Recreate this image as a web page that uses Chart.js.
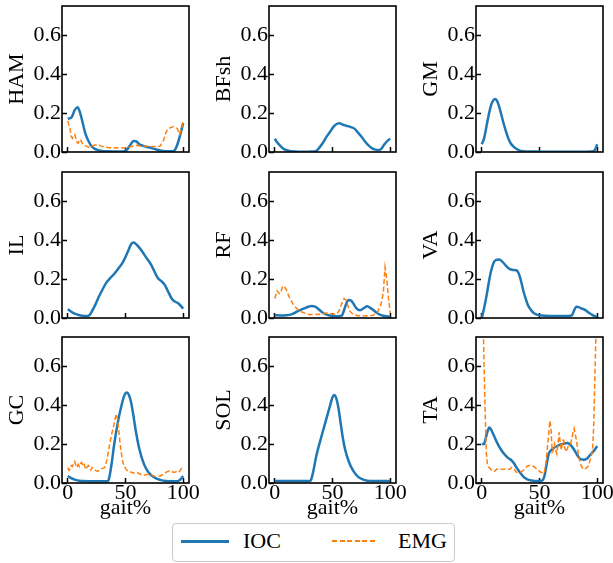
<!DOCTYPE html>
<html>
<head>
<meta charset="utf-8">
<script src="https://cdn.jsdelivr.net/npm/chart.js@4.4.1/dist/chart.umd.min.js"></script>
<style>
  html, body { margin: 0; padding: 0; background: #fff; }
  #fig { position: relative; width: 613px; height: 563px; overflow: hidden; background: #fff;
         font-family: "Liberation Serif", "Times New Roman", serif; }
  #fig canvas { position: absolute; }
  #legend { position: absolute; left: 172px; top: 523px; width: 281px; height: 37px;
            border: 1px solid #cccccc; border-radius: 4px; background: #fff; }
  .sample { position: absolute; top: 16px; }
  .solid { left: 8px; width: 48px; height: 2.5px; background: #1f77b4; }
  .dashed { left: 159px; width: 46px; height: 1.5px;
            background: repeating-linear-gradient(to right, #ff7f0e 0 5px, transparent 5px 7.6px); }
  .label { position: absolute; top: 6px; font-size: 22px; line-height: 22px; color: #000; white-space: nowrap; }
</style>
</head>
<body>
<div id="fig">
  <div id="legend">
    <div class="sample solid"></div><div class="label" style="left:70px">IOC</div>
    <div class="sample dashed"></div><div class="label" style="left:225px">EMG</div>
  </div>
</div>
<script>
// Muscle activation over the gait cycle: optimal-control estimate (IOC) vs. measured EMG.
const MUSCLES = ['HAM', 'BFsh', 'GM', 'IL', 'RF', 'VA', 'GC', 'SOL', 'TA'];
const X_TICKS = [0, 50, 100];
const Y_TICKS = [0, 0.2, 0.4, 0.6];

const HAM_IOC = [[0,0.17],[3.5,0.18],[6,0.215],[8.5,0.23],[10.5,0.205],[12.5,0.16],[15,0.1],[18,0.055],[21,0.027],[25,0.012],[30,0.005],[40,0.003],[48,0.003],[51,0.01],[54,0.035],[57,0.056],[59,0.055],[62,0.04],[66,0.03],[70,0.024],[75,0.016],[80,0.008],[85,0.004],[91,0.004],[93,0.012],[95,0.04],[97,0.08],[100,0.15]];
const HAM_EMG = [[0,0.16],[2,0.12],[3,0.08],[4,0.07],[5,0.085],[6,0.09],[7,0.07],[8,0.05],[9,0.045],[10,0.06],[11,0.065],[12,0.05],[14,0.035],[16,0.03],[18,0.025],[20,0.03],[23,0.035],[26,0.038],[29,0.03],[32,0.025],[36,0.022],[40,0.022],[45,0.02],[50,0.022],[53,0.025],[56,0.03],[60,0.035],[63,0.03],[67,0.03],[72,0.028],[77,0.028],[80,0.03],[83,0.06],[85,0.1],[87,0.12],[89,0.125],[91,0.13],[93,0.128],[95,0.12],[96,0.1],[97,0.09],[98,0.11],[100,0.155]];
const BFSH_IOC = [[0,0.068],[2,0.05],[5,0.03],[8,0.015],[12,0.006],[18,0.002],[25,0.001],[32,0.002],[36,0.006],[39,0.025],[42,0.05],[45,0.08],[48,0.105],[51,0.13],[54,0.145],[56,0.148],[59,0.14],[62,0.135],[66,0.128],[69,0.12],[72,0.1],[75,0.08],[78,0.055],[81,0.035],[84,0.02],[87,0.012],[90,0.01],[92,0.015],[95,0.04],[98,0.06],[100,0.068]];
const GM_IOC = [[0,0.04],[2,0.07],[4,0.13],[6,0.19],[8,0.24],[10,0.265],[11.5,0.272],[13,0.265],[15,0.235],[17,0.19],[19,0.145],[21,0.105],[23,0.07],[25,0.045],[28,0.025],[32,0.01],[36,0.004],[45,0.002],[60,0.001],[80,0.001],[95,0.002],[98,0.01],[100,0.04]];
const IL_IOC = [[0,0.045],[3,0.032],[6,0.022],[10,0.014],[14,0.01],[17,0.01],[19,0.016],[21,0.035],[24,0.07],[27,0.11],[30,0.145],[33,0.178],[36,0.2],[40,0.225],[44,0.255],[48,0.29],[52,0.34],[55,0.38],[57,0.388],[60,0.375],[64,0.345],[68,0.31],[72,0.275],[75,0.24],[78,0.205],[81,0.19],[84,0.17],[87,0.135],[90,0.1],[92,0.087],[95,0.078],[97,0.068],[100,0.048]];
const RF_IOC = [[0,0.014],[5,0.013],[10,0.014],[15,0.02],[20,0.035],[25,0.048],[29,0.058],[32,0.062],[35,0.058],[38,0.045],[41,0.03],[45,0.017],[50,0.01],[55,0.009],[58,0.012],[60,0.04],[62,0.075],[64,0.093],[66,0.09],[68,0.075],[70,0.055],[72,0.043],[74,0.04],[77,0.05],[80,0.06],[82,0.055],[85,0.043],[88,0.028],[91,0.017],[95,0.01],[100,0.007]];
const RF_EMG = [[0,0.1],[2,0.14],[4,0.125],[5,0.13],[7,0.165],[9,0.155],[10,0.145],[12,0.115],[14,0.09],[16,0.07],[18,0.055],[20,0.043],[23,0.032],[26,0.025],[30,0.017],[35,0.018],[40,0.02],[45,0.025],[50,0.02],[54,0.022],[56,0.04],[58,0.075],[60,0.1],[62,0.09],[63,0.07],[65,0.035],[68,0.018],[72,0.012],[76,0.01],[80,0.012],[85,0.014],[89,0.03],[92,0.07],[94,0.13],[95.5,0.26],[97,0.2],[98.5,0.1],[100,0.025]];
const VA_IOC = [[0,0.0],[2,0.05],[4,0.11],[6,0.18],[8,0.24],[10,0.28],[12,0.297],[15,0.3],[18,0.288],[21,0.268],[24,0.252],[27,0.247],[30,0.245],[32,0.228],[34,0.19],[36,0.14],[38,0.1],[40,0.065],[43,0.038],[46,0.022],[50,0.014],[55,0.011],[65,0.01],[75,0.01],[78,0.013],[80,0.04],[82,0.058],[84,0.056],[86,0.05],[89,0.043],[92,0.03],[96,0.015],[100,0.005]];
const GC_IOC = [[0,0.036],[3,0.025],[6,0.017],[10,0.011],[20,0.009],[30,0.009],[35,0.01],[36,0.03],[38,0.1],[40,0.19],[43,0.3],[46,0.385],[49,0.45],[51,0.465],[53,0.452],[55,0.41],[57,0.34],[59,0.265],[62,0.175],[66,0.097],[70,0.054],[75,0.028],[80,0.016],[85,0.01],[90,0.009],[95,0.009],[97,0.015],[100,0.036]];
const GC_EMG = [[0,0.08],[1,0.065],[2,0.07],[3,0.09],[4,0.085],[5,0.1],[6,0.11],[7,0.09],[8,0.08],[9,0.095],[10,0.085],[11,0.1],[12,0.105],[13,0.09],[14,0.1],[15,0.08],[16,0.07],[17,0.085],[18,0.09],[19,0.075],[20,0.067],[21,0.08],[22,0.075],[24,0.065],[26,0.06],[28,0.07],[30,0.075],[32,0.08],[34,0.12],[36,0.19],[38,0.25],[40,0.3],[41,0.33],[42,0.355],[43,0.33],[44,0.28],[45,0.22],[46,0.17],[47,0.13],[48,0.1],[50,0.075],[52,0.06],[55,0.055],[58,0.05],[60,0.054],[63,0.045],[66,0.04],[70,0.045],[73,0.04],[76,0.033],[80,0.036],[83,0.045],[86,0.058],[88,0.062],[90,0.06],[92,0.054],[94,0.058],[96,0.055],[98,0.07],[100,0.088]];
const SOL_IOC = [[0,0.01],[10,0.01],[20,0.01],[30,0.01],[31,0.012],[33,0.05],[36,0.14],[40,0.23],[44,0.315],[48,0.4],[50,0.44],[51.5,0.452],[53,0.44],[55,0.39],[57,0.31],[59,0.23],[61,0.17],[64,0.112],[68,0.062],[72,0.033],[76,0.019],[80,0.012],[85,0.01],[100,0.01]];
const TA_IOC = [[0,0.2],[2,0.2],[3,0.22],[5,0.265],[6.5,0.285],[8,0.275],[10,0.25],[13,0.21],[17,0.168],[20,0.145],[23,0.128],[26,0.115],[28,0.1],[30,0.08],[33,0.055],[36,0.033],[39,0.02],[43,0.013],[48,0.01],[52,0.012],[54,0.03],[56,0.09],[58,0.15],[60,0.168],[63,0.182],[66,0.192],[70,0.2],[74,0.205],[76,0.2],[79,0.18],[82,0.15],[85,0.125],[88,0.12],[91,0.125],[94,0.145],[97,0.165],[100,0.19]];
const TA_EMG = [[0,1.2],[1,0.9],[2,0.6],[3,0.35],[4,0.15],[5,0.09],[7,0.075],[9,0.065],[11,0.06],[13,0.072],[15,0.07],[18,0.07],[21,0.072],[24,0.07],[26,0.08],[28,0.07],[30,0.055],[33,0.055],[36,0.065],[39,0.085],[42,0.092],[45,0.085],[48,0.07],[51,0.055],[54,0.05],[55.5,0.1],[57,0.19],[58,0.25],[59,0.32],[60,0.28],[61,0.16],[62,0.17],[63,0.2],[64,0.17],[65,0.15],[66,0.2],[67,0.26],[68,0.2],[69,0.17],[70,0.22],[71,0.22],[72,0.18],[73,0.16],[75,0.19],[77,0.2],[79,0.26],[80,0.28],[81,0.25],[82,0.22],[84,0.13],[86,0.09],[88,0.07],[90,0.075],[92,0.085],[94,0.12],[96,0.17],[97,0.3],[98,0.55],[99,0.8],[100,1.2]];

const IOC_SERIES = [HAM_IOC, BFSH_IOC, GM_IOC, IL_IOC, RF_IOC, VA_IOC, GC_IOC, SOL_IOC, TA_IOC];
const EMG_SERIES = [HAM_EMG, null, null, null, RF_EMG, null, GC_EMG, null, TA_EMG];

// Grid geometry of the 3x3 panel layout
const COL_X = [62, 269, 476];
const ROW_Y = [6, 172, 337];
const PLOT_W = 127, PLOT_H = 146;
const FONT = { family: '"Liberation Serif", "Times New Roman", serif', size: 22 };
const BLUE = '#1f77b4', ORANGE = '#ff7f0e';

// Full box around each plot area
const framePlugin = {
  id: 'frame',
  afterDraw(chart) {
    const { ctx, chartArea: a } = chart;
    ctx.save();
    ctx.strokeStyle = '#000';
    ctx.lineWidth = 1.6;
    ctx.strokeRect(a.left, a.top, a.right - a.left, a.bottom - a.top);
    ctx.restore();
  }
};

// Keep the plot area fixed: no extra room reserved for overhanging tick labels
const noOverhang = s => { s.paddingTop = 0; s.paddingBottom = 0; s.paddingLeft = 0; s.paddingRight = 0; };

const toXY = pts => pts.map(([x, y]) => ({ x, y }));
const fig = document.getElementById('fig');

MUSCLES.forEach((name, i) => {
  const row = Math.floor(i / 3), col = i % 3;
  const bottomRow = row === 2;
  const padL = 62, padT = 6, padR = 16, padB = bottomRow ? 42 : 6;

  const canvas = document.createElement('canvas');
  canvas.width = padL + PLOT_W + padR;
  canvas.height = padT + PLOT_H + padB;
  canvas.style.left = (COL_X[col] - padL) + 'px';
  canvas.style.top = (ROW_Y[row] - padT) + 'px';
  fig.appendChild(canvas);

  const datasets = [{
    label: 'IOC', data: toXY(IOC_SERIES[i]), order: 2,
    borderColor: BLUE, borderWidth: 2.5, pointRadius: 0,
    cubicInterpolationMode: 'monotone', fill: false
  }];
  if (EMG_SERIES[i]) {
    datasets.push({
      label: 'EMG', data: toXY(EMG_SERIES[i]), order: 1,
      borderColor: ORANGE, borderWidth: 1.5, borderDash: [5, 2.5], pointRadius: 0,
      tension: 0, fill: false
    });
  }

  const gridOpts = { drawOnChartArea: false, drawTicks: true, tickLength: -5, tickWidth: 1.5, tickColor: '#000' };

  new Chart(canvas, {
    type: 'line',
    data: { datasets },
    plugins: [framePlugin],
    options: {
      responsive: false, animation: false, devicePixelRatio: 1,
      layout: { padding: { left: 0, top: padT, right: padR, bottom: 0 } },
      plugins: { legend: { display: false }, tooltip: { enabled: false } },
      scales: {
        x: {
          type: 'linear', position: 'bottom', min: -5, max: 105,
          afterBuildTicks: s => { s.ticks = X_TICKS.map(v => ({ value: v })); },
          afterFit: s => { s.height = padB; noOverhang(s); },
          grid: gridOpts, border: { display: false },
          ticks: {
            autoSkip: false, maxRotation: 0, minRotation: 0, padding: 2.5, color: '#000', font: FONT,
            callback: v => bottomRow ? String(v) : ''
          },
          title: { display: bottomRow, text: 'gait%', color: '#000', font: FONT, padding: { top: 0, bottom: 4 } }
        },
        y: {
          type: 'linear', position: 'left', min: 0, max: 0.75,
          afterBuildTicks: s => { s.ticks = Y_TICKS.map(v => ({ value: v })); },
          afterFit: s => { s.width = padL; noOverhang(s); },
          grid: gridOpts, border: { display: false },
          ticks: { autoSkip: false, padding: 6, color: '#000', font: FONT, callback: v => v.toFixed(1) },
          title: { display: true, text: name, color: '#000', font: FONT, padding: { top: 4.4, bottom: 0 } }
        }
      }
    }
  });
});
</script>
</body>
</html>
